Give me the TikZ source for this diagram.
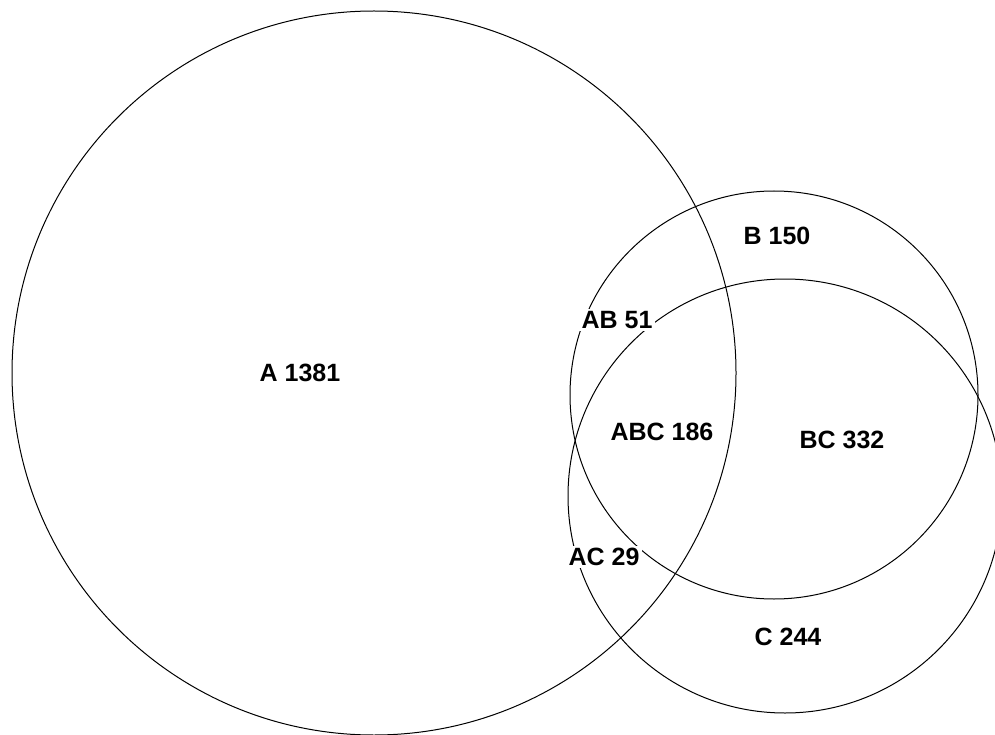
\documentclass[tikz,border=0pt]{standalone}
\usepackage{fontspec}
\setmainfont{Liberation Sans}
\begin{document}
\begin{tikzpicture}[x=1pt,y=-1pt,
  setcircle/.style={draw=black,line width=1pt,circle,inner sep=0pt},
  setlabel/.style={fill=white,inner sep=2.5pt,font=\fontsize{25}{28}\selectfont\bfseries}]
\useasboundingbox (0,0) rectangle (995,735);
\clip (0,0) rectangle (995,735);
\node[setcircle,minimum size=724pt] (A) at (374,373) {};
\node[setcircle,minimum size=408pt] (B) at (774,395) {};
\node[setcircle,minimum size=434pt] (C) at (785,496) {};
\node[setlabel] (lA) at (300,373) {A 1381};
\node[setlabel] (lB) at (777,236) {B 150};
\node[setlabel] (lAB) at (617,320) {AB 51};
\node[setlabel] (lABC) at (662,432) {ABC 186};
\node[setlabel] (lBC) at (842,440) {BC 332};
\node[setlabel] (lAC) at (604,557) {AC 29};
\node[setlabel] (lC) at (788,637) {C 244};
\end{tikzpicture}
\end{document}
